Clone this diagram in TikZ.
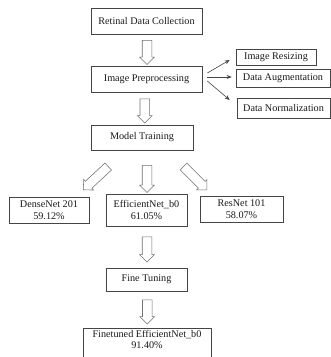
\documentclass[tikz,border=0pt]{standalone}
\usepackage{fontspec}
\setmainfont{Liberation Serif}
\usetikzlibrary{shapes.arrows,arrows.meta,calc}
\definecolor{linegray}{HTML}{454545}
\definecolor{arrgray}{HTML}{707070}
\definecolor{txt}{HTML}{1A1A1A}
\begin{document}
\begin{tikzpicture}[x=1pt,y=-1pt,
  box/.style={draw=linegray,line width=0.6pt,inner sep=0pt,align=center,text=txt,font=\fontsize{10.2}{11.5}\selectfont},
  harrow/.style={single arrow,draw=arrgray,line width=0.55pt,inner xsep=0pt,inner ysep=4.5pt,single arrow head extend=2.5pt,single arrow tip angle=90,anchor=center},
  thin/.style={draw=linegray,line width=0.6pt,-{Stealth[length=5pt,width=4pt]}}]
\useasboundingbox[fill=white] (0,0) rectangle (331,357);
% main column
\node[box,minimum width=111,minimum height=26] (ret) at (146.5,21) {Retinal Data Collection};
\node[box,minimum width=111,minimum height=26] (pre) at (146.5,79) {Image Preprocessing};
\node[box,minimum width=102,minimum height=25] (mt) at (142,137.5) {Model Training};
% side boxes
\node[box,minimum width=80,minimum height=16] (res) at (276,57) {Image Resizing};
\node[box,minimum width=94,minimum height=18] (aug) at (283,78) {Data Augmentation};
\node[box,minimum width=93,minimum height=20] (norm) at (283.5,108) {Data Normalization};
% models
\node[box,minimum width=80,minimum height=26] (dn) at (49,210) {DenseNet 201\\59.12\%};
\node[box,minimum width=81,minimum height=32] (en) at (146.5,210) {EfficientNet\_b0\\61.05\%};
\node[box,minimum width=83,minimum height=26] (rn) at (241.5,209) {ResNet 101\\58.07\%};
\node[box,minimum width=81,minimum height=23] (ft) at (146.5,279.5) {Fine Tuning};
\node[box,minimum width=128,minimum height=31,text depth=8pt] (fin) at (147,343.5) {Finetuned EfficientNet\_b0\\91.40\%};
% hollow arrows
\node[harrow,minimum height=24,rotate=-90] (h1) at ($(ret.south)!0.5!(pre.north)+(0.5,0)$) {};
\node[harrow,minimum height=24,rotate=-90] (h2) at ($(pre.south)!0.5!(mt.north)+(0.5,0)$) {};
\node[harrow,minimum height=27,rotate=-90] (h3) at (147,176.5) {};
\node[harrow,minimum height=34,rotate=-137] (h4) at (97.5,176.5) {};
\node[harrow,minimum height=33,rotate=-45] (h5) at (193.5,176.5) {};
\node[harrow,minimum height=25,rotate=-90] (h6) at ($(en.south)!0.5!(ft.north)+(0.5,0)$) {};
\node[harrow,minimum height=24,rotate=-90] (h7) at ($(ft.south)!0.5!(fin.north)+(0.5,0)$) {};
% thin arrows
\draw[thin] ($(pre.east)+(5,-6)$) -- ($(res.west)+(-6,3)$);
\draw[thin] ($(pre.east)+(5,-2)$) -- ($(aug.west)+(-4,-1)$);
\draw[thin] ($(pre.east)+(5,2)$) -- ($(norm.west)+(-7,-8)$);
\end{tikzpicture}
\end{document}
